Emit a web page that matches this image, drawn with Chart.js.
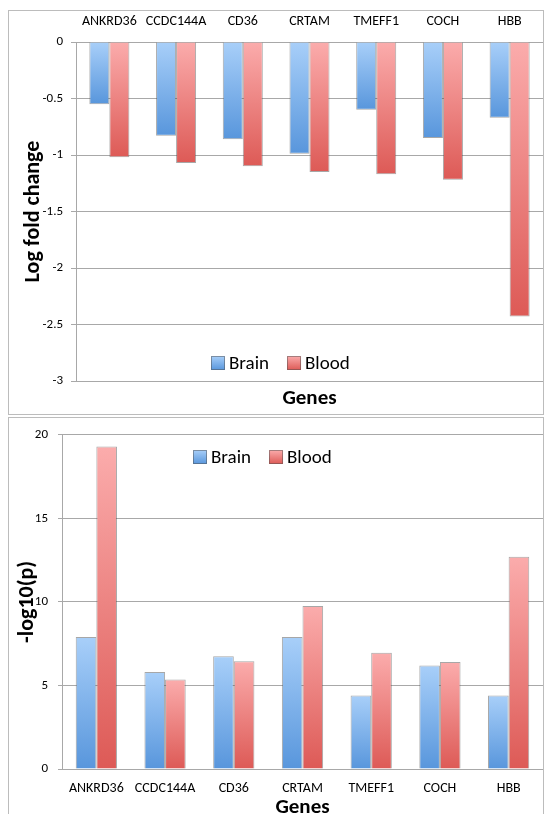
<!DOCTYPE html>
<html lang="en">
<head>
<meta charset="UTF-8">
<title>Genes</title>
<style>
  body { margin: 0; padding: 0; background: #fff; overflow: hidden; font-family: Lato, Arial, sans-serif; }
  .panel { position: absolute; border: 1px solid #bcbcbc; box-sizing: border-box; }
  #topPanel { left: 8px; top: 10px; width: 536px; height: 405px; }
  #bottomPanel { left: 8px; top: 417px; width: 536px; height: 420px; }
  canvas { position: absolute; }
  #foldChart { left: 8px; top: 10px; }
  #pChart { left: 8px; top: 417px; }
</style>
<script src="https://cdn.jsdelivr.net/npm/chart.js"></script>
</head>
<body>
<div class="panel" id="topPanel"></div>
<div class="panel" id="bottomPanel"></div>
<canvas id="foldChart" width="535" height="404"></canvas>
<canvas id="pChart" width="535" height="405"></canvas>
<script>
const genes = ['ANKRD36', 'CCDC144A', 'CD36', 'CRTAM', 'TMEFF1', 'COCH', 'HBB'];
const brainFold = [-0.55, -0.83, -0.86, -0.99, -0.60, -0.85, -0.67];
const bloodFold = [-1.02, -1.07, -1.10, -1.15, -1.17, -1.22, -2.43];
const brainP = [7.9, 5.8, 6.75, 7.9, 4.4, 6.2, 4.4];
const bloodP = [19.3, 5.35, 6.45, 9.75, 6.95, 6.4, 12.7];

const FONT = 'Carlito, Lato, Arial, sans-serif';
const GRID = '#a8a8a8';
const BLUE = ['#a8cff9', '#5896dc'];
const RED = ['#fbacac', '#dd5a56'];

// vertical gradient per bar, light at the top end, dark at the bottom end
function barFill(cols) {
    return function (c) {
        const chart = c.chart;
        const y = chart.scales.y;
        if (c.type !== 'data' || !chart.chartArea || !y) return cols[1];
        const a = y.getPixelForValue(c.raw);
        const b = y.getPixelForValue(0);
        const top = Math.min(a, b), bot = Math.max(a, b);
        if (bot - top < 1) return cols[1];
        const g = chart.ctx.createLinearGradient(0, top, 0, bot);
        g.addColorStop(0, cols[0]);
        g.addColorStop(1, cols[1]);
        return g;
    };
}

// legend drawn inside the plot like the excel one
const boxLegend = {
    id: 'boxLegend',
    afterDraw(chart, args, opts) {
        const ctx = chart.ctx;
        let x = opts.x;
        const y = opts.y;
        ctx.save();
        ctx.font = '19px ' + FONT;
        ctx.textBaseline = 'middle';
        ctx.textAlign = 'left';
        chart.data.datasets.forEach(ds => {
            const g = ctx.createLinearGradient(0, y - 7, 0, y + 7);
            g.addColorStop(0, ds.cols[0]);
            g.addColorStop(1, ds.cols[1]);
            ctx.fillStyle = g;
            ctx.fillRect(x, y - 7, 14, 14);
            ctx.strokeStyle = 'rgba(80,80,80,0.5)';
            ctx.lineWidth = 1;
            ctx.strokeRect(x + 0.5, y - 6.5, 13, 13);
            ctx.fillStyle = '#000';
            ctx.fillText(ds.label, x + 18, y + 1);
            x += 18 + ctx.measureText(ds.label).width + 18;
        });
        ctx.restore();
    }
};

function makeSets(brain, blood) {
    return [
        { label: 'Brain', data: brain, cols: BLUE, backgroundColor: barFill(BLUE),
          borderColor: 'rgba(80,80,80,0.5)', borderWidth: 1 },
        { label: 'Blood', data: blood, cols: RED, backgroundColor: barFill(RED),
          borderColor: 'rgba(80,80,80,0.5)', borderWidth: 1 }
    ];
}

Chart.defaults.font.family = FONT;
Chart.defaults.color = '#000';

// top: log fold change
new Chart(document.getElementById('foldChart'), {
    type: 'bar',
    data: { labels: genes, datasets: makeSets(brainFold, bloodFold) },
    plugins: [boxLegend],
    options: {
        responsive: false,
        animation: false,
        datasets: { bar: { categoryPercentage: 0.6, barPercentage: 1.0 } },
        layout: { padding: 0 },
        plugins: {
            legend: { display: false },
            tooltip: { enabled: false },
            boxLegend: { x: 203, y: 353 }
        },
        scales: {
            x: {
                position: 'top',
                grid: { display: false, drawTicks: false },
                border: { display: true, color: GRID },
                ticks: { font: { size: 14 }, padding: 12, maxRotation: 0, autoSkip: false },
                afterFit: s => { s.height = 32; }
            },
            x2: {
                type: 'category',
                position: 'bottom',
                grid: { display: false, drawTicks: false },
                border: { display: false },
                ticks: { display: false },
                title: { display: true, text: 'Genes', font: { size: 21, weight: 'bold' },
                         padding: { top: 0, bottom: 3 } },
                afterFit: s => { s.height = 33; }
            },
            y: {
                min: -3,
                max: 0,
                ticks: { stepSize: 0.5, font: { size: 13 }, padding: 8, callback: v => String(v) },
                grid: { color: GRID, tickLength: 5 },
                border: { color: GRID },
                title: { display: true, text: 'Log fold change', font: { size: 22, weight: 'bold' },
                         padding: { top: 12, bottom: 0 } },
                afterFit: s => { s.width = 68; }
            }
        }
    }
});

// bottom: -log10(p)
new Chart(document.getElementById('pChart'), {
    type: 'bar',
    data: { labels: genes, datasets: makeSets(brainP, bloodP) },
    plugins: [boxLegend],
    options: {
        responsive: false,
        animation: false,
        datasets: { bar: { categoryPercentage: 0.6, barPercentage: 1.0 } },
        layout: { padding: { top: 8 } },
        plugins: {
            legend: { display: false },
            tooltip: { enabled: false },
            boxLegend: { x: 185, y: 40 }
        },
        scales: {
            x: {
                position: 'bottom',
                grid: { display: false, drawTicks: false },
                border: { display: true, color: GRID },
                ticks: { font: { size: 14 }, padding: 11, maxRotation: 0, autoSkip: false },
                title: { display: true, text: 'Genes', font: { size: 21, weight: 'bold' },
                         padding: { top: 0, bottom: 2 } },
                afterFit: s => { s.height = 53; }
            },
            y: {
                min: 0,
                max: 20,
                ticks: { stepSize: 5, font: { size: 13 }, padding: 10 },
                grid: { color: GRID, tickLength: 4 },
                border: { color: GRID },
                title: { display: true, text: '-log10(p)', font: { size: 22, weight: 'bold' },
                         padding: { top: 6, bottom: 0 } },
                afterFit: s => { s.width = 54; }
            }
        }
    }
});
</script>
</body>
</html>
